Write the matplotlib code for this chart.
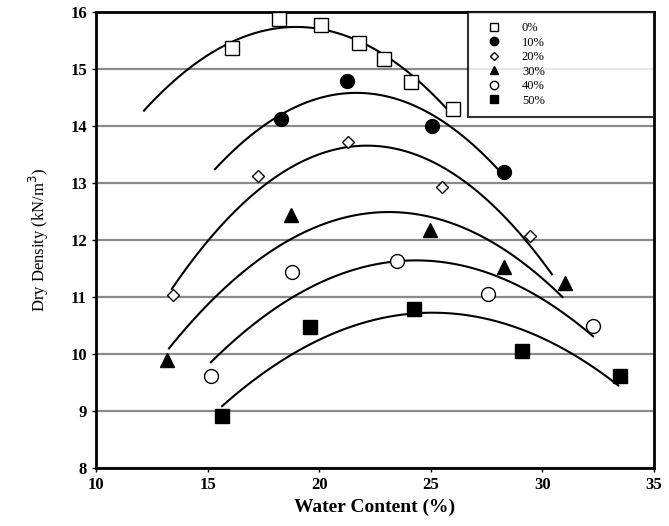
import numpy as np
import matplotlib
matplotlib.use("Agg")
import matplotlib.pyplot as plt

plt.rcParams['font.family'] = ['Liberation Serif', 'DejaVu Serif']

# data (water content %, dry density kN/m3)
labels = ["0%", "10%", "20%", "30%", "40%", "50%"]
w0 = [16.1, 18.2, 20.1, 21.8, 22.9, 24.1, 26.0]
d0 = [15.37, 15.88, 15.78, 15.46, 15.17, 14.77, 14.30]
w10 = [18.3, 21.25, 25.05, 28.3]
d10 = [14.12, 14.79, 14.00, 13.19]
w20 = [13.45, 17.26, 21.3, 25.5, 29.45]
d20 = [11.03, 13.12, 13.72, 12.93, 12.07]
w30 = [13.2, 18.74, 24.96, 28.3, 31.0]
d30 = [9.90, 12.44, 12.18, 11.53, 11.24]
w40 = [15.15, 18.8, 23.5, 27.56, 32.27]
d40 = [9.61, 11.44, 11.63, 11.05, 10.49]
w50 = [15.65, 19.6, 24.25, 29.1, 33.48]
d50 = [8.91, 10.47, 10.79, 10.05, 9.61]

# x-range covered by each trend line
fit_start = [12.15, 15.33, 13.4, 13.27, 15.15, 15.65]
fit_end = [26.0, 28.3, 30.43, 30.9, 32.27, 33.4]

series = [(w0, d0), (w10, d10), (w20, d20), (w30, d30), (w40, d40), (w50, d50)]
markers = [
    dict(marker='s', ms=10, mfc='white', mec='black', mew=1.0),
    dict(marker='o', ms=10, mfc='black', mec='black'),
    dict(marker='D', ms=6.5, mfc='white', mec='black', mew=1.0),
    dict(marker='^', ms=10, mfc='black', mec='black'),
    dict(marker='o', ms=10, mfc='white', mec='black', mew=1.0),
    dict(marker='s', ms=10, mfc='black', mec='black'),
]

fig = plt.figure(figsize=(6.69, 5.26), dpi=100)
ax = fig.add_axes([0.1435, 0.110, 0.834, 0.867])

for (w, d), st, lab, a, b in zip(series, markers, labels, fit_start, fit_end):
    c = np.polyfit(w, d, 2)  # trend line like the original
    xs = np.linspace(a, b, 100)
    ax.plot(xs, np.polyval(c, xs), color='black', lw=1.5, zorder=2)
    ax.plot(w, d, ls='none', label=lab, zorder=3, **st)

ax.set_xlim(10, 35)
ax.set_ylim(8, 16)
ax.set_xticks(range(10, 36, 5))
ax.set_yticks(range(8, 17))
ax.grid(axis='y', color='#8a8a8a', lw=1.6)
ax.set_axisbelow(True)
for s in ax.spines.values():
    s.set_linewidth(2.0)
ax.tick_params(direction='out', length=3, width=1, labelsize=12)
for t in ax.get_xticklabels() + ax.get_yticklabels():
    t.set_fontweight('bold')

ax.set_xlabel("Water Content (%)", fontsize=14, fontweight='bold', labelpad=4)
ax.set_ylabel("Dry Density (kN/m$^3$)", fontsize=12, labelpad=14)

leg = ax.legend(loc='upper left', bbox_to_anchor=(0.667, 0.0, 0.333, 1.0),
                mode='expand', frameon=True, fancybox=False,
                edgecolor='black', fontsize=9, handlelength=2.5,
                handletextpad=1.0, labelspacing=0.2, borderpad=0.8,
                markerscale=0.6, borderaxespad=0.0)
leg.get_frame().set_linewidth(1.5)

fig.savefig("out.png", dpi=100)
